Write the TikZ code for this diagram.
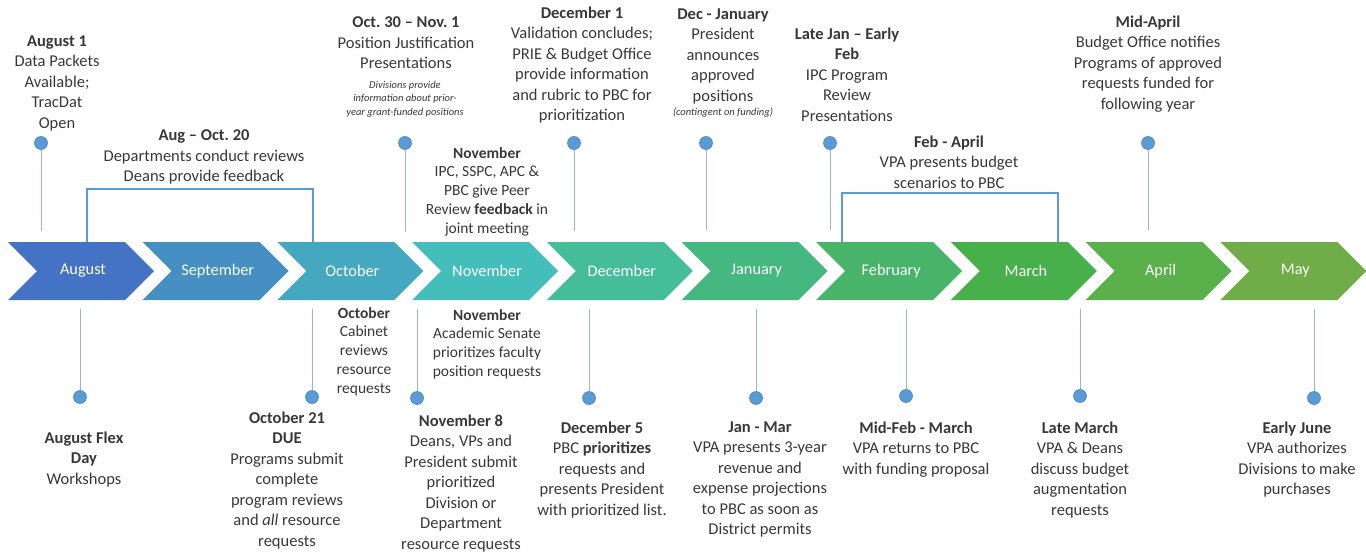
\documentclass[tikz,border=0pt]{standalone}
\usepackage{fontspec}
\setmainfont{Carlito}
\definecolor{chA}{HTML}{4472C4}
\definecolor{chB}{HTML}{468FC2}
\definecolor{chC}{HTML}{44A8C0}
\definecolor{chD}{HTML}{44BEBA}
\definecolor{chE}{HTML}{44BD98}
\definecolor{chF}{HTML}{45B882}
\definecolor{chG}{HTML}{48B46A}
\definecolor{chH}{HTML}{48B04A}
\definecolor{chI}{HTML}{5AB04A}
\definecolor{chJ}{HTML}{70AC47}
\definecolor{dotblue}{HTML}{5B9BD5}
\definecolor{dotedge}{HTML}{4A86C0}
\definecolor{stemblue}{HTML}{8DB6E0}
\definecolor{ink}{HTML}{383838}
\tikzset{
  evt/.style={anchor=north, align=center, inner sep=0pt, text=ink,
    font=\fontsize{16.5}{20.5}\selectfont},
  evtsm/.style={evt, font=\fontsize{15.5}{18.8}\selectfont},
  note/.style={evt, font=\fontsize{10.5}{13.5}\selectfont\itshape},
  month/.style={inner sep=0pt, text=white, font=\fontsize{16.3}{19}\selectfont},
  dot/.style={circle, fill=dotblue, draw=dotedge, line width=0.6pt,
    minimum size=13pt, inner sep=0pt},
  stem/.style={draw=stemblue, line width=1pt},
  bracket/.style={draw=dotblue, line width=1.3pt}
}
\begin{document}
\frenchspacing
\begin{tikzpicture}[x=1pt,y=-1pt]
\useasboundingbox (0,0) rectangle (1366,554);

% month chevrons
\foreach \i/\m/\c/\n in {0/August/chA/mAug, 1/September/chB/mSep,
    2/October/chC/mOct, 3/November/chD/mNov, 4/December/chE/mDec,
    5/January/chF/mJan, 6/February/chG/mFeb, 7/March/chH/mMar,
    8/April/chI/mApr, 9/May/chJ/mMay}{
  \pgfmathsetmacro\xo{8+\i*134.7}
  \fill[\c] (\xo,242) -- ++(117,0) -- ++(29,29) -- ++(-29,29)
    -- ++(-117,0) -- ++(29,-29) -- cycle;
  \node[month] (\n) at (\xo+75,271) {\m};
}

% brackets spanning several months
\coordinate (b1l) at (87,242);
\coordinate (b1r) at (313,242);
\draw[bracket] (b1l) |- (313,189) -- (b1r);
\coordinate (b2l) at (842,242);
\coordinate (b2r) at (1058,242);
\draw[bracket] (b2l) |- (1058,193) -- (b2r);

% markers above the timeline
\foreach \n/\x/\y in {uA/41/231, uB/405/232, uC/574/231, uD/706/230,
    uE/830/230, uF/1148/230}{
  \coordinate (\n e) at (\x,\y);
  \node[dot] (\n) at (\x,143) {};
  \draw[stem] (\n) -- (\n e);
}

% markers below the timeline
\foreach \n/\x/\y in {lA/80/397, lB/312/397, lC/417/398, lD/589/398,
    lE/756/398, lF/906/396, lG/1080/396, lH/1314/398}{
  \coordinate (\n e) at (\x,309);
  \node[dot] (\n) at (\x,\y) {};
  \draw[stem] (\n e) -- (\n);
}

% events above
\node[evt] (tAug1) at (57,35.5)
  {\textbf{August 1}\\Data Packets\\Available;\\TracDat\\Open};
\node[evt] (tAugOct) at (204,129.5)
  {\textbf{Aug – Oct. 20}\\Departments conduct reviews\\Deans provide feedback};
\node[evt] (tOct30) at (406,16.5)
  {\textbf{Oct. 30 – Nov. 1}\\Position Justification\\Presentations};
\node[note] (tOct30n) at (405,81)
  {Divisions provide\\information about prior-\\year grant-funded positions};
\node[evtsm] (tNovPeer) at (487,147)
  {\textbf{November}\\IPC, SSPC, APC \&\\PBC give Peer\\Review \textbf{feedback} in\\joint meeting};
\node[evt] (tDec1) at (582,6.5)
  {\textbf{December 1}\\Validation concludes;\\PRIE \& Budget Office\\provide information\\and rubric to PBC for\\prioritization};
\node[evt] (tDecJan) at (723,8.5)
  {\textbf{Dec - January}\\President\\announces\\approved\\positions};
\node[note, anchor=center] (tDecJann) at (723,113) {(contingent on funding)};
\node[evt] (tLateJan) at (847,27.5)
  {\textbf{Late Jan – Early}\\\textbf{Feb}\\IPC Program\\Review\\Presentations};
\node[evt] (tFebApr) at (949,135.5)
  {\textbf{Feb - April}\\VPA presents budget\\scenarios to PBC};
\node[evt] (tMidApr) at (1148,15.5)
  {\textbf{Mid-April}\\Budget Office notifies\\Programs of approved\\requests funded for\\following year};

% events below
\node[evtsm] (tOctCab) at (364,307)
  {\textbf{October}\\Cabinet\\reviews\\resource\\requests};
\node[evtsm] (tNovSen) at (487,309)
  {\textbf{November}\\Academic Senate\\prioritizes faculty\\position requests};
\node[evt] (tFlex) at (84,431.5)
  {\textbf{August Flex}\\\textbf{Day}\\Workshops};
\node[evt] (tOct21) at (287,411.5)
  {\textbf{October 21}\\\textbf{DUE}\\Programs submit\\complete\\program reviews\\and \textit{all} resource\\requests};
\node[evt] (tNov8) at (461,414.5)
  {\textbf{November 8}\\Deans, VPs and\\President submit\\prioritized\\Division or\\Department\\resource requests};
\node[evt] (tDec5) at (602,421.5)
  {\textbf{December 5}\\PBC \textbf{prioritizes}\\requests and\\presents President\\with prioritized list.};
\node[evt] (tJanMar) at (760,421.5)
  {\textbf{Jan - Mar}\\VPA presents 3-year\\revenue and\\expense projections\\to PBC as soon as\\District permits};
\node[evt] (tMidFeb) at (916,421.5)
  {\textbf{Mid-Feb - March}\\VPA returns to PBC\\with funding proposal};
\node[evt] (tLateMar) at (1080,421.5)
  {\textbf{Late March}\\VPA \& Deans\\discuss budget\\augmentation\\requests};
\node[evt] (tEarlyJun) at (1297,421.5)
  {\textbf{Early June}\\VPA authorizes\\Divisions to make\\purchases};
\end{tikzpicture}
\end{document}
